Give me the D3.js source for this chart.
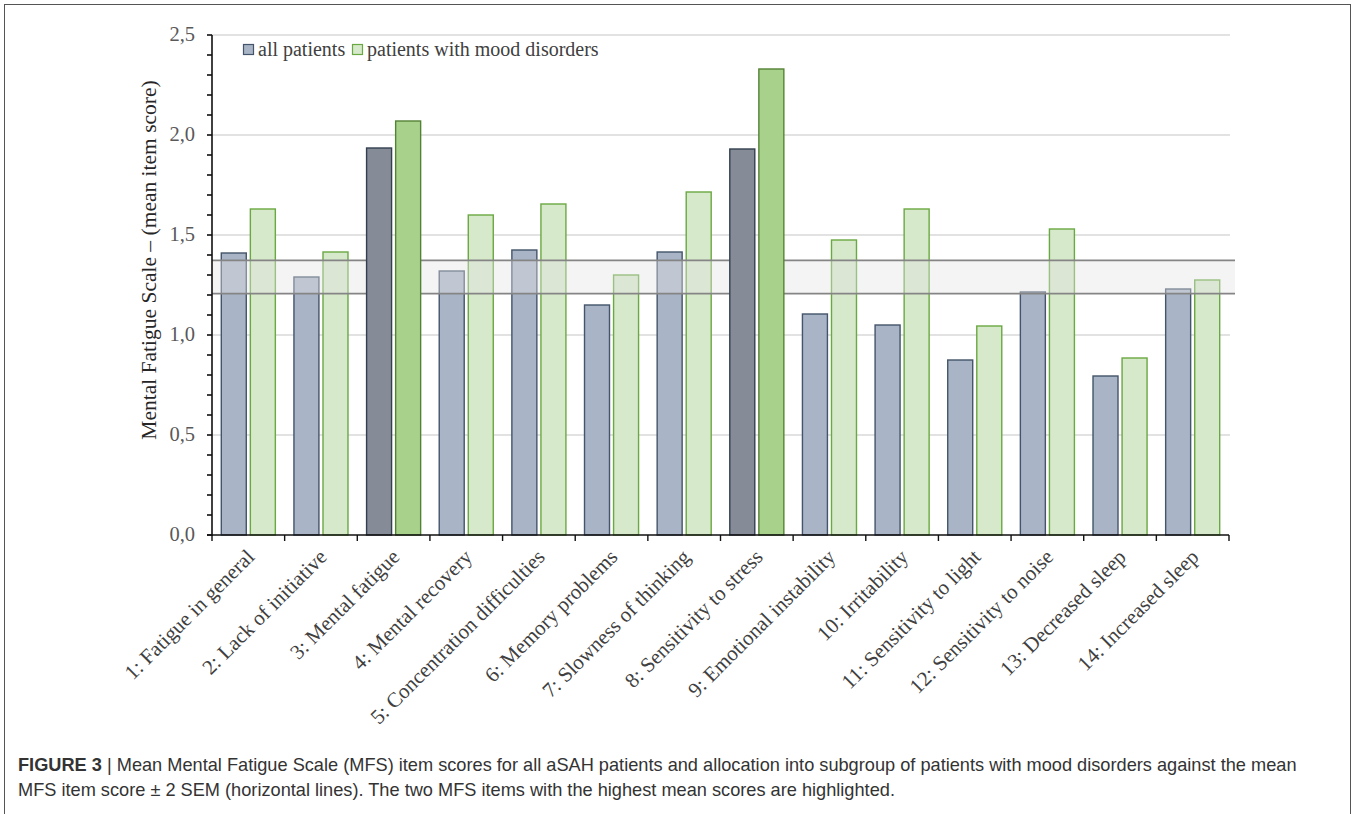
<!DOCTYPE html>
<html>
<head>
<meta charset="utf-8">
<script src="https://cdn.jsdelivr.net/npm/d3@7"></script>
<style>
  html, body { margin: 0; padding: 0; background: #fff; }
  svg { display: block; }
</style>
</head>
<body>
<svg id="chart" width="1355" height="814"></svg>
<script>
// MFS items (x categories)
const categories = [
  "1: Fatigue in general",
  "2: Lack of initiative",
  "3: Mental fatigue",
  "4: Mental recovery",
  "5: Concentration difficulties",
  "6: Memory problems",
  "7: Slowness of thinking",
  "8: Sensitivity to stress",
  "9: Emotional instability",
  "10: Irritability",
  "11: Sensitivity to light",
  "12: Sensitivity to noise",
  "13: Decreased sleep",
  "14: Increased sleep"
];

// Mean item scores per group
const allPatients   = [1.41, 1.29, 1.935, 1.32, 1.425, 1.15, 1.415, 1.93, 1.105, 1.05, 0.875, 1.215, 0.795, 1.23];
const moodDisorders = [1.63, 1.415, 2.07, 1.60, 1.655, 1.30, 1.715, 2.33, 1.475, 1.63, 1.045, 1.53, 0.885, 1.275];

// Items with the highest mean scores
const highlighted = ["3: Mental fatigue", "8: Sensitivity to stress"];

// Mean MFS item score ± 2 SEM
const bandUpper = 1.373;
const bandLower = 1.207;

const seriesNames = ["all patients", "patients with mood disorders"];
const yTicks = [0, 0.5, 1.0, 1.5, 2.0, 2.5];

const svg = d3.select("#chart");
const serif = "'Liberation Serif', 'Times New Roman', serif";

// Figure frame
svg.append("rect")
  .attr("x", 4.5).attr("y", 4.5)
  .attr("width", 1346).attr("height", 840)
  .attr("fill", "none").attr("stroke", "#555").attr("stroke-width", 1);

const plot = { left: 212, right: 1229, top: 35, bottom: 535 };

const x = d3.scaleBand().domain(categories).range([plot.left, plot.right]).padding(0);
const x1 = d3.scaleBand().domain(["all", "mood"]).range([0, x.bandwidth()])
  .paddingInner(0.14).paddingOuter(0.32);
const y = d3.scaleLinear().domain([0, 2.5]).range([plot.bottom, plot.top]);

const fmt = v => d3.format(".1f")(v).replace(".", ",");

// Gridlines
svg.append("g").selectAll("line").data(yTicks.filter(d => d > 0)).join("line")
  .attr("x1", plot.left).attr("x2", plot.right + 1)
  .attr("y1", d => y(d)).attr("y2", d => y(d))
  .attr("stroke", "#d9d9d9").attr("stroke-width", 1.3);

const rows = categories.map((c, i) => ({
  cat: c, all: allPatients[i], mood: moodDisorders[i], hi: highlighted.includes(c)
}));

const styles = {
  all:  { fill: "#a9b5c7", stroke: "#44546a" },
  mood: { fill: "#d6e9ca", stroke: "#6aa842" },
  allHi:  { fill: "#858c97", stroke: "#333f50" },
  moodHi: { fill: "#a8d28c", stroke: "#548235" }
};

function drawBars(g, data) {
  ["all", "mood"].forEach(key => {
    g.selectAll("rect." + key).data(data).join("rect")
      .attr("class", key)
      .attr("x", d => x(d.cat) + x1(key))
      .attr("width", x1.bandwidth())
      .attr("y", d => y(d[key]))
      .attr("height", d => y(0) - y(d[key]))
      .attr("fill", d => styles[d.hi ? key + "Hi" : key].fill)
      .attr("stroke", d => styles[d.hi ? key + "Hi" : key].stroke)
      .attr("stroke-width", 1.4);
  });
}

// Regular bars sit beneath the ±2 SEM band
drawBars(svg.append("g"), rows.filter(d => !d.hi));

// Band segments, interrupted by the highlighted items
const bandStart = plot.left, bandEnd = plot.right + 6;
const cuts = rows.filter(d => d.hi)
  .map(d => [x(d.cat) + x1("all"), x(d.cat) + x1("mood") + x1.bandwidth()]);
const segments = [];
let cur = bandStart;
cuts.forEach(([a, b]) => { segments.push([cur, a]); cur = b; });
segments.push([cur, bandEnd]);

const bandG = svg.append("g");
bandG.selectAll("rect").data(segments).join("rect")
  .attr("x", d => d[0]).attr("width", d => d[1] - d[0])
  .attr("y", y(bandUpper)).attr("height", y(bandLower) - y(bandUpper))
  .attr("fill", "#e4e4e4").attr("fill-opacity", 0.4);
[bandUpper, bandLower].forEach(v => {
  bandG.append("g").selectAll("line").data(segments).join("line")
    .attr("x1", d => d[0]).attr("x2", d => d[1])
    .attr("y1", y(v)).attr("y2", y(v))
    .attr("stroke", "#858585").attr("stroke-width", 1.6);
});

// Highlighted bars on top
drawBars(svg.append("g"), rows.filter(d => d.hi));

// Y axis with minor ticks every 0.1
const yAxis = svg.append("g").attr("transform", `translate(${plot.left},0)`);
yAxis.append("line").attr("x1", 0).attr("x2", 0)
  .attr("y1", plot.top).attr("y2", plot.bottom + 1)
  .attr("stroke", "#111").attr("stroke-width", 1.6);
yAxis.selectAll("line.tick").data(d3.range(0, 26).map(i => i / 10)).join("line")
  .attr("class", "tick")
  .attr("x1", -5).attr("x2", 0)
  .attr("y1", d => y(d)).attr("y2", d => y(d))
  .attr("stroke", "#111").attr("stroke-width", 1.6);
yAxis.selectAll("text").data(yTicks).join("text")
  .attr("x", -17).attr("y", d => y(d))
  .attr("dy", "0.3em")
  .attr("text-anchor", "end")
  .attr("font-family", serif).attr("font-size", 20.5)
  .attr("fill", "#595959")
  .text(fmt);

// X axis
const xAxis = svg.append("g").attr("transform", `translate(0,${plot.bottom})`);
xAxis.append("line").attr("x1", plot.left - 5).attr("x2", plot.right)
  .attr("stroke", "#111").attr("stroke-width", 1.6);
xAxis.selectAll("line.tick").data(d3.range(categories.length + 1)).join("line")
  .attr("class", "tick")
  .attr("x1", i => plot.left + i * x.step()).attr("x2", i => plot.left + i * x.step())
  .attr("y1", 0).attr("y2", 6)
  .attr("stroke", "#111").attr("stroke-width", 1.4);
xAxis.selectAll("text").data(categories).join("text")
  .attr("transform", d => `translate(${x(d) + x.bandwidth() / 2 + 2},18) rotate(-45)`)
  .attr("text-anchor", "end")
  .attr("dy", "0.35em")
  .attr("font-family", serif).attr("font-size", 21)
  .attr("fill", "#404040")
  .text(d => d);

// Y axis title
svg.append("text")
  .attr("transform", "translate(156,260) rotate(-90)")
  .attr("text-anchor", "middle")
  .attr("font-family", serif).attr("font-size", 21.5)
  .attr("fill", "#262626")
  .text("Mental Fatigue Scale \u2013 (mean item score)");

// Legend
const legend = svg.append("g").attr("transform", "translate(243,50)");
const legendItems = [
  { name: seriesNames[0], style: styles.all, dx: 0 },
  { name: seriesNames[1], style: styles.mood, dx: 109 }
];
legendItems.forEach(it => {
  const g = legend.append("g").attr("transform", `translate(${it.dx},0)`);
  g.append("rect").attr("x", 0.5).attr("y", -5.5).attr("width", 10).attr("height", 10)
    .attr("fill", it.style.fill).attr("stroke", it.style.stroke).attr("stroke-width", 1.2);
  g.append("text").attr("x", 15).attr("y", 0).attr("dy", "0.32em")
    .attr("font-family", serif).attr("font-size", 20)
    .attr("fill", "#404040")
    .text(it.name);
});

// Caption
const sans = "'Liberation Sans', Arial, sans-serif";
const cap = svg.append("g").attr("font-family", sans).attr("font-size", 18.2).attr("fill", "#333");
const l1 = cap.append("text").attr("x", 18).attr("y", 771);
l1.append("tspan").attr("font-weight", "bold").text("FIGURE 3");
l1.append("tspan").text(" | ");
l1.append("tspan").text("Mean Mental Fatigue Scale (MFS) item scores for all aSAH patients and allocation into subgroup of patients with mood disorders against the mean");
cap.append("text").attr("x", 18).attr("y", 796)
  .text("MFS item score \u00b1 2 SEM (horizontal lines). The two MFS items with the highest mean scores are highlighted.");
</script>
</body>
</html>
